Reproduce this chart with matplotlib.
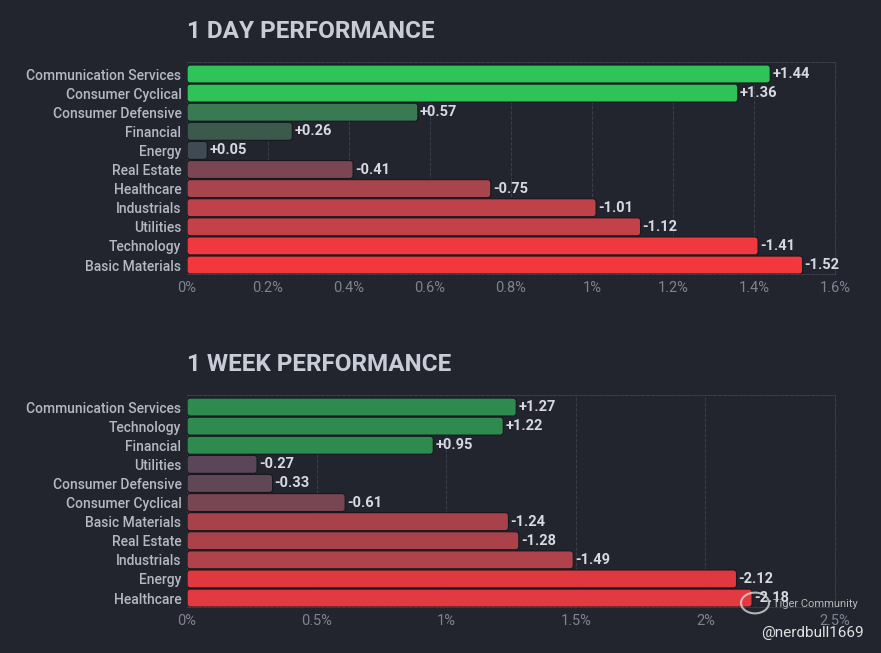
import matplotlib.pyplot as plt
from matplotlib.patches import FancyBboxPatch, Circle
from matplotlib.ticker import FuncFormatter

# 1 day data
day_sectors = ['Communication Services', 'Consumer Cyclical', 'Consumer Defensive',
               'Financial', 'Energy', 'Real Estate', 'Healthcare', 'Industrials',
               'Utilities', 'Technology', 'Basic Materials']
day_values = [1.44, 1.36, 0.57, 0.26, 0.05, -0.41, -0.75, -1.01, -1.12, -1.41, -1.52]
day_colors = ['#2ec45a', '#2ec259', '#3a7a52', '#3c5a4c', '#3f4a52', '#7a4652',
              '#a8444c', '#bf424a', '#c5414a', '#ef393e', '#f3383c']
day_ticks = [0, 0.2, 0.4, 0.6, 0.8, 1.0, 1.2, 1.4, 1.6]

# 1 week data
week_sectors = ['Communication Services', 'Technology', 'Financial', 'Utilities',
                'Consumer Defensive', 'Consumer Cyclical', 'Basic Materials',
                'Real Estate', 'Industrials', 'Energy', 'Healthcare']
week_values = [1.27, 1.22, 0.95, -0.27, -0.33, -0.61, -1.24, -1.28, -1.49, -2.12, -2.18]
week_colors = ['#2f8a50', '#2f8a50', '#2f8a50', '#5a4658', '#604756', '#784652',
               '#a7424b', '#aa424b', '#b0424b', '#df393f', '#e23a40']
week_ticks = [0, 0.5, 1.0, 1.5, 2.0, 2.5]

bg = '#22252e'
plt.rcParams['font.family'] = ['Roboto', 'DejaVu Sans']

fig = plt.figure(figsize=(8.81, 6.53), dpi=100)
fig.patch.set_facecolor(bg)


def pct(v, pos):
    return ('%g' % v) + '%'


def panel(rect, title, title_y, sectors, values, colors, ticks):
    ax = fig.add_axes(rect)
    ax.set_facecolor(bg)
    n = len(sectors)
    ax.set_xlim(0, ticks[-1])
    ax.set_ylim(n - 0.53, -0.63)
    ax.set_yticks(range(n))
    ax.set_yticklabels(sectors, color='#b4b8c2', fontsize=10, fontweight='medium')
    ax.set_xticks(ticks)
    ax.xaxis.set_major_formatter(FuncFormatter(pct))
    ax.tick_params(axis='x', colors='#7d8391', labelsize=10.5, length=0, pad=5)
    ax.tick_params(axis='y', length=0, pad=4)
    ax.set_axisbelow(True)
    ax.grid(axis='x', color='#3a3f4b', linestyle='--', linewidth=0.7)
    for side in ['top', 'right', 'bottom']:
        ax.spines[side].set_color('#3a3f4b')
        ax.spines[side].set_linestyle('--')
        ax.spines[side].set_linewidth(0.7)
    ax.spines['left'].set_visible(False)

    # pixel scale for rounded bar ends
    bbox = ax.get_window_extent()
    px_x = bbox.width / ticks[-1]
    px_y = bbox.height / (n - 0.53 + 0.63)
    r = 3.0 / px_x
    asp = (3.0 / px_y) / r
    h = 0.94
    for i, (v, c) in enumerate(zip(values, colors)):
        w = abs(v)
        p = FancyBboxPatch((0, i - h / 2), w, h,
                           boxstyle='round,pad=0,rounding_size=%f' % r,
                           mutation_aspect=asp, facecolor=c,
                           edgecolor='#16181d', linewidth=0.8, zorder=3)
        ax.add_patch(p)
        ax.text(w + 2.0 / px_x, i, '%+.2f' % v, va='center', ha='left',
                color='#d6d9e0', fontsize=10.5, fontweight='bold', zorder=4)
    fig.text(rect[0], title_y, title, color='#c8ccd6', fontsize=17.5,
             fontweight='bold', va='center', ha='left')
    return ax


panel([0.2123, 0.5804, 0.7355, 0.3247], '1 DAY PERFORMANCE', 0.952,
      day_sectors, day_values, day_colors, day_ticks)
panel([0.2123, 0.0704, 0.7355, 0.3247], '1 WEEK PERFORMANCE', 0.442,
      week_sectors, week_values, week_colors, week_ticks)

# watermark
fig.patches.append(Circle((755 / 881, 1 - 603 / 653), 14 / 881, transform=fig.transFigure,
                          fill=False, edgecolor='#d8d8d8', linewidth=1.5, alpha=0.8,
                          zorder=10))
fig.text(773 / 881, 1 - 604 / 653, 'Tiger Community', color='#c8c8c8', fontsize=8,
         va='center', ha='left', alpha=0.9, zorder=10)
fig.text(864 / 881, 1 - 633 / 653, '@nerdbull1669', color='#e2e2e2', fontsize=11,
         va='center', ha='right', zorder=10)

fig.savefig('out.png', dpi=100, facecolor=bg)
